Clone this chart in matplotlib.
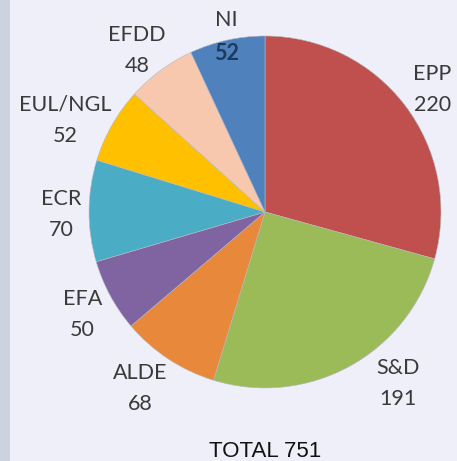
import numpy as np
import matplotlib.pyplot as plt
from matplotlib.patches import Rectangle

# Seats per group, clockwise from 12 o'clock
groups = ["EPP", "S&D", "ALDE", "EFA", "ECR", "EUL/NGL", "EFDD", "NI"]
seats = [220, 191, 68, 50, 70, 52, 48, 52]
colors = ["#C0504D", "#9BBB59", "#E8883A", "#8064A2", "#4BACC6",
          "#FFC000", "#F8C8AE", "#4F81BD"]

# label placement tweaks: (radius factor, angle shift in degrees)
label_pos = [(1.18, -1), (1.23, 9), (1.23, -2), (1.19, 1),
             (1.16, 1), (1.25, 5), (1.17, 2), (1.02, 0)]

BG = "#EEEFF8"

fig = plt.figure(figsize=(4.57, 4.61), dpi=100)
fig.patch.set_facecolor(BG)
ax = fig.add_axes([0, 0, 1, 1])
ax.set_facecolor(BG)

wedges, _ = ax.pie(seats, colors=colors, startangle=90, counterclock=False,
                   radius=1.0, wedgeprops=dict(linewidth=0.4, edgecolor="#B8B8C0"))

ax.set_xlim(-1.506, 1.091)
ax.set_ylim(-1.415, 1.2045)
ax.set_aspect("auto")
ax.axis("off")

# darker strip at the left edge
fig.patches.append(Rectangle((0, 0), 10 / 457, 1, transform=fig.transFigure,
                             facecolor="#CDD2E0", edgecolor="none", zorder=0))

for w, name, val, (rf, dth) in zip(wedges, groups, seats, label_pos):
    ang = np.deg2rad((w.theta1 + w.theta2) / 2 + dth)
    x = rf * np.cos(ang)
    y = rf * np.sin(ang)
    if name == "NI":
        ax.text(x, y + 0.093, name, ha="center", va="center", fontsize=15.5,
                family="Lato", color="#3A3A3A")
        ax.text(x, y - 0.093, str(val), ha="center", va="center", fontsize=15.5,
                family="Lato", color="#1F3A5F", fontweight="bold")
    else:
        ax.text(x, y, f"{name}\n{val}", ha="center", va="center", fontsize=15.5,
                family="Lato", color="#3A3A3A", linespacing=1.68)

fig.text(265 / 457, 1 - 451 / 461, "TOTAL 751", ha="center", va="center",
         fontsize=16, family="Liberation Sans", color="#111111")

fig.savefig("out.png", dpi=100, facecolor=BG)
